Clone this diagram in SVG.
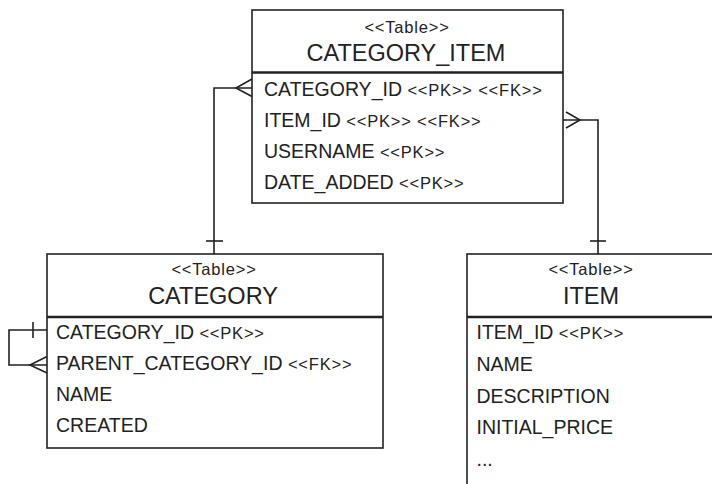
<svg xmlns="http://www.w3.org/2000/svg" width="712" height="484" viewBox="0 0 712 484">
<style>
  .box { fill: #fff; stroke: #222; stroke-width: 1.6; }
  .div { stroke: #222; stroke-width: 2.6; }
  .ln { fill: none; stroke: #222; stroke-width: 1.6; }
  text { font-family: "Liberation Sans", Arial, sans-serif; fill: #222; }
  .st { font-size: 16.5px; letter-spacing: 0.8px; }
  .ttl { font-size: 23.5px; }
  .row { font-size: 19.5px; }
  .sm { font-size: 16.5px; letter-spacing: 0.8px; }
</style>
<rect width="712" height="484" fill="#fff"/>
<g id="connectors">
  <path class="ln" d="M252,88 H214 V254"/>
  <path class="ln" d="M252,79 L236,88 L252,96.5"/>
  <path class="ln" d="M206,241 H223"/>
  <path class="ln" d="M563,120 H598 V254"/>
  <path class="ln" d="M566,112 L580,120 L566,128"/>
  <path class="ln" d="M590,241 H606"/>
  <path class="ln" d="M47,330 H9 V365 H47"/>
  <path class="ln" d="M33,322 V338"/>
  <path class="ln" d="M47,356.5 L30,365 L47,373"/>
</g>
<g id="category_item">
  <rect class="box" x="252" y="10" width="311" height="193"/>
  <line class="div" x1="252" y1="72.5" x2="563" y2="72.5"/>
  <text class="st" x="407" y="33" text-anchor="middle">&lt;&lt;Table&gt;&gt;</text>
  <text class="ttl" x="406" y="61" text-anchor="middle">CATEGORY_ITEM</text>
  <text class="row" x="264" y="96">CATEGORY_ID <tspan class="sm">&lt;&lt;PK&gt;&gt; &lt;&lt;FK&gt;&gt;</tspan></text>
  <text class="row" x="264" y="127">ITEM_ID <tspan class="sm">&lt;&lt;PK&gt;&gt; &lt;&lt;FK&gt;&gt;</tspan></text>
  <text class="row" x="264" y="158">USERNAME <tspan class="sm">&lt;&lt;PK&gt;&gt;</tspan></text>
  <text class="row" x="264" y="189">DATE_ADDED <tspan class="sm">&lt;&lt;PK&gt;&gt;</tspan></text>
</g>
<g id="category">
  <rect class="box" x="47" y="254" width="336" height="194"/>
  <line class="div" x1="47" y1="317" x2="383" y2="317"/>
  <text class="st" x="214" y="274.5" text-anchor="middle">&lt;&lt;Table&gt;&gt;</text>
  <text class="ttl" x="213" y="304" text-anchor="middle">CATEGORY</text>
  <text class="row" x="56" y="339">CATEGORY_ID <tspan class="sm">&lt;&lt;PK&gt;&gt;</tspan></text>
  <text class="row" x="56" y="370">PARENT_CATEGORY_ID <tspan class="sm">&lt;&lt;FK&gt;&gt;</tspan></text>
  <text class="row" x="56" y="401">NAME</text>
  <text class="row" x="56" y="432">CREATED</text>
</g>
<g id="item">
  <rect class="box" x="467" y="254" width="250" height="260"/>
  <line class="div" x1="467" y1="317" x2="717" y2="317"/>
  <text class="st" x="591" y="274.5" text-anchor="middle">&lt;&lt;Table&gt;&gt;</text>
  <text class="ttl" x="591" y="304" text-anchor="middle">ITEM</text>
  <text class="row" x="476.5" y="339">ITEM_ID <tspan class="sm">&lt;&lt;PK&gt;&gt;</tspan></text>
  <text class="row" x="476.5" y="371">NAME</text>
  <text class="row" x="476.5" y="402.5">DESCRIPTION</text>
  <text class="row" x="476.5" y="434">INITIAL_PRICE</text>
  <text class="row" x="476.5" y="466">...</text>
</g>
</svg>
